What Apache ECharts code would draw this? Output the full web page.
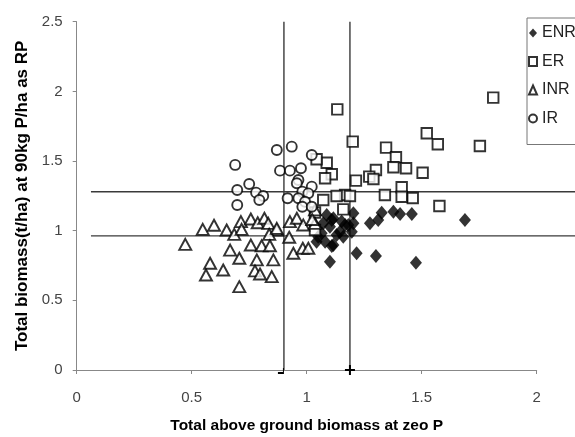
<!DOCTYPE html>
<html>
<head>
<meta charset="utf-8">
<script src="https://cdn.jsdelivr.net/npm/echarts@6/dist/echarts.min.js"></script>
<style>
  html, body { margin: 0; padding: 0; background: #fff; }
  #chart { width: 575px; height: 437px; }
</style>
</head>
<body>
<div id="chart"></div>
<script>
// ── Data ────────────────────────────────────────────────────────────────────

const xTicks = [0, 0.5, 1, 1.5, 2];
const yTicks = [0, 0.5, 1, 1.5, 2, 2.5];

const enr = [
  [1.101, 0.777], [1.217, 0.838], [1.301, 0.818], [1.475, 0.770], [1.688, 1.077],
  [1.457, 1.120], [1.406, 1.120], [1.377, 1.136], [1.326, 1.129], [1.311, 1.077],
  [1.275, 1.053], [1.203, 1.125], [1.203, 1.053], [1.196, 0.993], [1.159, 0.957],
  [1.145, 0.993], [1.167, 1.041], [1.109, 1.077], [1.072, 1.053], [1.087, 1.113],
  [1.065, 0.981], [1.043, 0.921], [1.080, 0.921], [1.109, 0.890], [1.130, 0.969],
  [1.116, 1.089], [1.152, 1.065], [1.101, 1.029], [1.181, 1.041], [1.050, 0.957],
  [1.116, 0.897],
];

const er = [
  [1.133, 1.871], [1.200, 1.639], [1.811, 1.955], [1.753, 1.608], [1.522, 1.699],
  [1.570, 1.620], [1.345, 1.596], [1.388, 1.527], [1.377, 1.455], [1.432, 1.448],
  [1.504, 1.416], [1.301, 1.436], [1.272, 1.388], [1.290, 1.371], [1.214, 1.359],
  [1.413, 1.312], [1.340, 1.256], [1.087, 1.488], [1.043, 1.513], [1.109, 1.405],
  [1.080, 1.376], [1.167, 1.256], [1.188, 1.249], [1.130, 1.249], [1.461, 1.235],
  [1.413, 1.244], [1.577, 1.177], [1.159, 1.153], [1.072, 1.220], [1.036, 1.005],
  [1.036, 1.130],
];

const inr = [
  [0.472, 0.902], [0.548, 1.010], [0.597, 1.039], [0.652, 1.005], [0.685, 0.974],
  [0.714, 1.065], [0.717, 1.010], [0.757, 1.084], [0.787, 1.057], [0.816, 1.089],
  [0.833, 1.053], [0.870, 1.005], [0.837, 0.974], [0.667, 0.861], [0.707, 0.802],
  [0.757, 0.897], [0.804, 0.892], [0.840, 0.892], [0.783, 0.790], [0.855, 0.790],
  [0.580, 0.766], [0.562, 0.682], [0.637, 0.718], [0.775, 0.711], [0.797, 0.689],
  [0.848, 0.670], [0.707, 0.598], [0.927, 1.065], [0.924, 0.953], [0.942, 0.838],
  [0.983, 0.874], [1.007, 0.874], [0.957, 1.089], [0.985, 1.041], [1.036, 1.149],
  [1.036, 1.053], [0.870, 1.017], [1.024, 1.080],
];

const ir = [
  [0.689, 1.472], [0.750, 1.335], [0.698, 1.292], [0.780, 1.273], [0.811, 1.249],
  [0.794, 1.220], [0.698, 1.184], [0.870, 1.579], [0.935, 1.603], [0.884, 1.431],
  [0.927, 1.431], [0.975, 1.448], [1.022, 1.543], [0.964, 1.364], [0.957, 1.340],
  [1.022, 1.316], [0.981, 1.280], [1.007, 1.268], [0.917, 1.233], [0.964, 1.233],
  [0.993, 1.208], [0.981, 1.172], [1.022, 1.172],
];

// mean lines drawn across the plot
const vLines = [0.901, 1.188];
const hLines = [0.963, 1.279];
const hLineSpan = [0.062, 2.1665];  // runs past the x axis end, to the page edge

// ── Chart ───────────────────────────────────────────────────────────────────

const FONT = 'Liberation Sans, Arial, sans-serif';
const PLOT = { left: 76.7, top: 21.7, bottom: 67, outerBoundsMode: 'none', containLabel: false };

const mk = (name, data, symbol, size, filled) => ({
  name, type: 'scatter', data, symbol, symbolSize: size,
  itemStyle: filled
    ? { color: '#000' }
    : { color: '#fff', borderColor: '#000', borderWidth: 1.9 },
  emphasis: { disabled: true },
  z: 3,
});

const refLine = (pts, axisIdx) => ({
  type: 'line', data: pts, silent: true, z: 2,
  xAxisIndex: axisIdx, yAxisIndex: axisIdx,
  symbol: 'none', symbolSize: 10,
  lineStyle: { color: '#3a3a3a', width: 1.4 },
  itemStyle: { color: '#000' },
});

const capLeft = 'path://M0,4h6v2h-6zM5,0h1v6h-1z';
const capPlus = 'path://M0,4h10v2h-10zM4,0h2v10h-2z';

const series = [
  mk('ENR', enr, 'diamond', [12, 14], true),
  mk('ER', er, 'rect', 10.5, false),
  mk('INR', inr, 'triangle', [12, 11], false),
  mk('IR', ir, 'circle', 10, false),
  ...hLines.map(y => refLine(hLineSpan.map(x => [x, y]), 1)),
  ...vLines.map((x, i) => refLine([
    { value: [x, 0], symbol: i === 0 ? capLeft : capPlus,
      symbolSize: i === 0 ? [6, 6] : 10, symbolOffset: i === 0 ? [-3, 1] : [0, 0] },
    { value: [x, 2.5], symbol: 'none' },
  ], 0)),
];

const chart = echarts.init(document.getElementById('chart'));
chart.setOption({
  animation: false,
  backgroundColor: '#fff',
  textStyle: { fontFamily: FONT },
  grid: [
    { ...PLOT, right: 38.3 },
    { ...PLOT, right: 0 },
  ],
  legend: {
    data: ['ENR', 'ER', 'INR', 'IR'],
    orient: 'vertical', left: 527, top: 18,
    itemWidth: 8, itemHeight: 9, itemGap: 12.5,
    padding: [7, 40, 18, 1],
    borderColor: '#777', borderWidth: 1,
    textStyle: { fontSize: 16, color: '#222', fontFamily: FONT },
  },
  xAxis: [{
    type: 'value', min: xTicks[0], max: xTicks[xTicks.length - 1], interval: 0.5,
    name: 'Total above ground biomass at zeo P',
    nameLocation: 'middle', nameGap: 48,
    nameTextStyle: { fontSize: 15.5, fontWeight: 'bold', color: '#000' },
    axisLine: { lineStyle: { color: '#888' } },
    axisTick: { length: 4, lineStyle: { color: '#888' } },
    axisLabel: { fontSize: 15, color: '#444', margin: 20 },
    splitLine: { show: false },
  }, {
    type: 'value', gridIndex: 1, min: 0, max: hLineSpan[1], show: false,
  }],
  yAxis: [{
    type: 'value', min: yTicks[0], max: yTicks[yTicks.length - 1], interval: 0.5,
    name: 'Total biomass(t/ha) at 90kg P/ha as RP',
    nameLocation: 'middle', nameGap: 44,
    nameTextStyle: { fontSize: 17, fontWeight: 'bold', color: '#000' },
    axisLine: { show: true, lineStyle: { color: '#888' } },
    axisTick: { show: true, length: 4, lineStyle: { color: '#888' } },
    axisLabel: { fontSize: 15, color: '#444', margin: 14 },
    splitLine: { show: false },
  }, {
    type: 'value', gridIndex: 1, min: yTicks[0], max: yTicks[yTicks.length - 1], show: false,
  }],
  series,
});
</script>
</body>
</html>
